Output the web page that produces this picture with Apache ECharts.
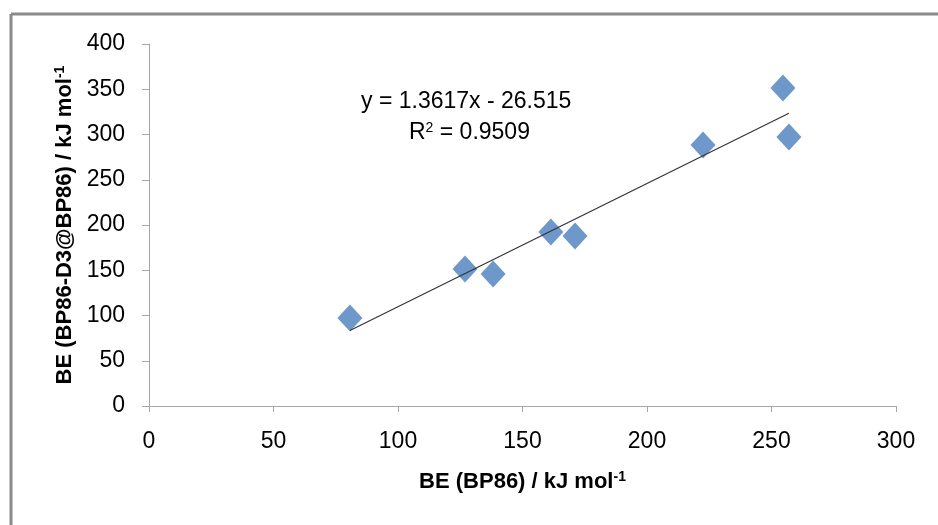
<!DOCTYPE html>
<html>
<head>
<meta charset="utf-8">
<script src="https://cdn.jsdelivr.net/npm/echarts@6/dist/echarts.min.js"></script>
<style>html,body{margin:0;padding:0;background:#fff}#c{width:938px;height:525px}</style>
</head>
<body>
<div id="c"></div>
<script>
// Data
var beBP86 = [80.7, 126.9, 138.2, 161.4, 171.1, 222.5, 254.6, 257.0];
var beBP86D3 = [97.2, 151.4, 145.9, 192.3, 187.8, 288.4, 351.4, 297.2];
var trendX = [80.7, 257.0];
var trendY = [83.4, 323.4];
var xTicks = [0, 50, 100, 150, 200, 250, 300];
var yTicks = [0, 50, 100, 150, 200, 250, 300, 350, 400];
var eqText = 'y = 1.3617x - 26.515';
var r2Value = '0.9509';

var chart = echarts.init(document.getElementById('c'), null, {renderer: 'canvas'});
var font = 'Liberation Sans';
var axisGray = '#a6a6a6';
var pts = beBP86.map(function (x, i) { return [x, beBP86D3[i]]; });
var trend = trendX.map(function (x, i) { return [x, trendY[i]]; });

chart.setOption({
  animation: false,
  backgroundColor: '#ffffff',
  graphic: [
    {type: 'line', shape: {x1: 11, y1: 14, x2: 938, y2: 14}, style: {stroke: '#8a8a8a', lineWidth: 3}},
    {type: 'line', shape: {x1: 11, y1: 14, x2: 11, y2: 525}, style: {stroke: '#8a8a8a', lineWidth: 3}},
    {type: 'text', left: 361, top: 90, style: {text: eqText, font: '23px "' + font + '"', fill: '#000'}},
    {type: 'text', left: 409, top: 121, style: {
      text: '{n|R}{s|2}{n| = ' + r2Value + '}',
      rich: {
        n: {fontFamily: font, fontSize: 23, color: '#000'},
        s: {fontFamily: font, fontSize: 14, verticalAlign: 'top', color: '#000', padding: [0, 0, 9, 0]}
      }
    }}
  ],
  grid: {left: 149, right: 42, top: 44, bottom: 119, containLabel: false},
  xAxis: {
    type: 'value', min: xTicks[0], max: xTicks[xTicks.length - 1], interval: 50,
    name: '{b|BE (BP86) / kJ mol}{s|-1}',
    nameLocation: 'middle', nameGap: 64,
    nameTextStyle: {
      rich: {
        b: {fontFamily: font, fontSize: 22, fontWeight: 'bold', color: '#000'},
        s: {fontFamily: font, fontSize: 14, fontWeight: 'bold', color: '#000', verticalAlign: 'top', padding: [0, 0, 10, 0]}
      }
    },
    axisLine: {show: true, onZero: false, lineStyle: {color: axisGray, width: 1}},
    axisTick: {show: true, inside: false, length: 6, lineStyle: {color: axisGray}},
    axisLabel: {fontFamily: font, fontSize: 23, color: '#000', margin: 24},
    splitLine: {show: false}
  },
  yAxis: {
    type: 'value', min: yTicks[0], max: yTicks[yTicks.length - 1], interval: 50,
    name: '{b|BE (BP86-D3@BP86) / kJ mol}{s|-1}',
    nameLocation: 'middle', nameGap: 71, nameRotate: 90,
    nameTextStyle: {
      rich: {
        b: {fontFamily: font, fontSize: 22, fontWeight: 'bold', color: '#000'},
        s: {fontFamily: font, fontSize: 14, fontWeight: 'bold', color: '#000', verticalAlign: 'top', padding: [0, 0, 10, 0]}
      }
    },
    axisLine: {show: true, onZero: false, lineStyle: {color: axisGray, width: 1}},
    axisTick: {show: true, inside: false, length: 7, lineStyle: {color: axisGray}},
    axisLabel: {fontFamily: font, fontSize: 23, color: '#000', margin: 24},
    splitLine: {show: false}
  },
  series: [
    {
      type: 'line', data: trend, symbol: 'none', silent: true,
      lineStyle: {color: '#333333', width: 1.2}, z: 3
    },
    {
      type: 'scatter', data: pts, symbol: 'diamond', symbolSize: [25, 27],
      itemStyle: {color: '#4a7ebb'}, z: 2
    }
  ]
});
</script>
</body>
</html>
